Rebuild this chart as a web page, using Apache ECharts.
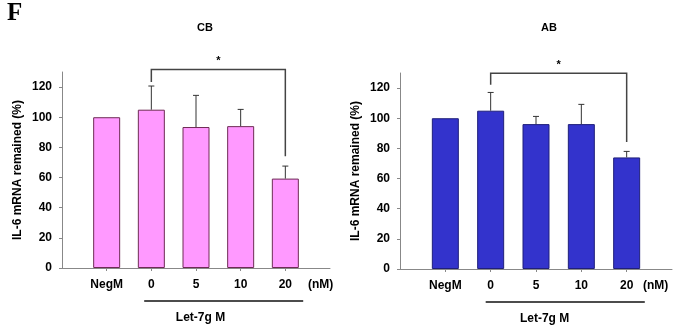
<!DOCTYPE html>
<html>
<head>
<meta charset="utf-8">
<script src="https://cdn.jsdelivr.net/npm/echarts@6/dist/echarts.min.js"></script>
<style>
  html, body { margin: 0; padding: 0; background: #fff; }
  #chart { width: 678px; height: 327px; }
</style>
</head>
<body>
<div id="chart"></div>
<script>
// categories (blank slots pad the axis on both sides)
const groups = ['NegM', '0', '5', '10', '20'];
const categories = [''].concat(groups, [' ']);

// CB panel: mean and top of error bar (%)
const cbMean = [100, 105, 93.5, 94.1, 59.3];
const cbUpper = [null, 120.7, 114.5, 105.2, 67.6];
// AB panel
const abMean = [100, 105, 96.1, 96.1, 74];
const abUpper = [null, 117.1, 101.2, 109.2, 78];

// significance bracket: [from idx, to idx, top, left leg bottom, right leg bottom]
const cbBracket = [2, 5, 131.7, 123.3, 74.2];
const abBracket = [2, 5, 129.8, 122.2, 84.2];

// group underline (value-axis units): [start, end, text centre, unit centre]
const cbGroup = [1.84, 5.40, 3.1, 5.79];
const abGroup = [1.89, 5.40, 3.19, 5.64];

const yTicks = [0, 20, 40, 60, 80, 100, 120];
const FONT = '"Liberation Sans", Arial, sans-serif';

const chart = echarts.init(document.getElementById('chart'));

function pad(arr) {
  return [null].concat(arr, [null]);
}

function errorData(mean, upper) {
  return mean.map((m, i) => [i + 1, m, upper[i]]).filter(d => d[2] != null);
}

function renderError(params, api) {
  const base = api.coord([api.value(0), api.value(1)]);
  const top = api.coord([api.value(0), api.value(2)]);
  const cap = 3;
  const style = { stroke: '#333', lineWidth: 1 };
  return {
    type: 'group',
    children: [
      { type: 'line', shape: { x1: base[0], y1: base[1], x2: top[0], y2: top[1] }, style },
      { type: 'line', shape: { x1: top[0] - cap, y1: top[1], x2: top[0] + cap, y2: top[1] }, style }
    ]
  };
}

function renderBracket(params, api) {
  const a = api.value(0), b = api.value(1);
  const p1 = api.coord([a, api.value(3)]);
  const p2 = api.coord([a, api.value(2)]);
  const p3 = api.coord([b, api.value(2)]);
  const p4 = api.coord([b, api.value(4)]);
  return {
    type: 'group',
    children: [
      {
        type: 'polyline',
        shape: { points: [p1, p2, p3, p4] },
        style: { stroke: '#444', lineWidth: 1.5, fill: null }
      },
      {
        type: 'text',
        style: {
          x: (p2[0] + p3[0]) / 2, y: p2[1] - 3,
          text: '*', align: 'center', verticalAlign: 'bottom',
          font: 'bold 11px ' + FONT, fill: '#000'
        }
      }
    ]
  };
}

function renderGroup(params, api) {
  const s = api.coord([api.value(0), 0]);
  const e = api.coord([api.value(1), 0]);
  const t = api.coord([api.value(2), 0]);
  const u = api.coord([api.value(3), 0]);
  return {
    type: 'group',
    children: [
      {
        type: 'line',
        shape: { x1: s[0], y1: s[1] + 33, x2: e[0], y2: e[1] + 33 },
        style: { stroke: '#111', lineWidth: 1.5 }
      },
      {
        type: 'text',
        style: {
          x: t[0], y: t[1] + 50, text: 'Let-7g M', align: 'center', verticalAlign: 'middle',
          font: 'bold 12px ' + FONT, fill: '#000'
        }
      },
      {
        type: 'text',
        style: {
          x: u[0], y: u[1] + 17, text: '(nM)', align: 'center', verticalAlign: 'middle',
          font: 'bold 12px ' + FONT, fill: '#000'
        }
      }
    ]
  };
}

function catAxis(gridIndex) {
  return {
    type: 'category',
    gridIndex,
    data: categories,
    boundaryGap: false,
    axisLine: { lineStyle: { color: '#888', width: 1 } },
    axisTick: { length: 3, interval: (i) => i > 0 && i < categories.length - 1, lineStyle: { color: '#888' } },
    axisLabel: { interval: 0, margin: 11, color: '#000', fontWeight: 'bold', fontSize: 12, fontFamily: FONT }
  };
}

function valAxisX(gridIndex) {
  return { type: 'value', gridIndex, min: 0, max: 6, show: false };
}

function yAxis(gridIndex) {
  return {
    type: 'value',
    gridIndex,
    min: 0,
    max: 130,
    name: 'IL-6 mRNA remained (%)',
    nameLocation: 'middle',
    nameGap: 38,
    nameTextStyle: { color: '#000', fontWeight: 'bold', fontSize: 12, fontFamily: FONT },
    axisLine: { show: true, lineStyle: { color: '#888', width: 1 } },
    axisTick: { show: true, length: 3, customValues: yTicks, lineStyle: { color: '#888' } },
    axisLabel: { customValues: yTicks, margin: 10, color: '#000', fontWeight: 'bold', fontSize: 12, fontFamily: FONT },
    splitLine: { show: false }
  };
}

function panelSeries(xCat, xVal, yIdx, mean, upper, bracket, group, fill, border) {
  return [
    {
      type: 'bar',
      xAxisIndex: xCat, yAxisIndex: yIdx,
      data: pad(mean),
      barWidth: 27,
      itemStyle: { color: fill, borderColor: border, borderWidth: 1 },
      z: 2
    },
    {
      type: 'custom',
      xAxisIndex: xCat, yAxisIndex: yIdx,
      data: errorData(mean, upper),
      renderItem: renderError,
      z: 3
    },
    {
      type: 'custom',
      xAxisIndex: xCat, yAxisIndex: yIdx,
      data: [bracket],
      renderItem: renderBracket,
      clip: false,
      z: 4
    },
    {
      type: 'custom',
      xAxisIndex: xVal, yAxisIndex: yIdx,
      data: [group],
      renderItem: renderGroup,
      clip: false,
      z: 4
    }
  ];
}

chart.setOption({
  backgroundColor: '#fff',
  animation: false,
  title: [
    { text: 'CB', left: 200, top: 17, textAlign: 'center',
      textStyle: { color: '#000', fontWeight: 'bold', fontSize: 11, fontFamily: FONT } },
    { text: 'AB', left: 544, top: 17, textAlign: 'center',
      textStyle: { color: '#000', fontWeight: 'bold', fontSize: 11, fontFamily: FONT } }
  ],
  graphic: [
    { type: 'text', left: 7, top: 1,
      style: { text: 'F', font: 'bold 25px "Liberation Serif", "Times New Roman", serif', fill: '#000' } }
  ],
  grid: [
    { left: 62, top: 72, width: 268, height: 196 },
    { left: 400, top: 73, width: 272, height: 196 }
  ],
  xAxis: [catAxis(0), valAxisX(0), catAxis(1), valAxisX(1)],
  yAxis: [yAxis(0), yAxis(1)],
  series: [].concat(
    panelSeries(0, 1, 0, cbMean, cbUpper, cbBracket, cbGroup, '#FF99FF', '#6E2B55'),
    panelSeries(2, 3, 1, abMean, abUpper, abBracket, abGroup, '#3333CC', '#1F1F7A')
  )
});
</script>
</body>
</html>
